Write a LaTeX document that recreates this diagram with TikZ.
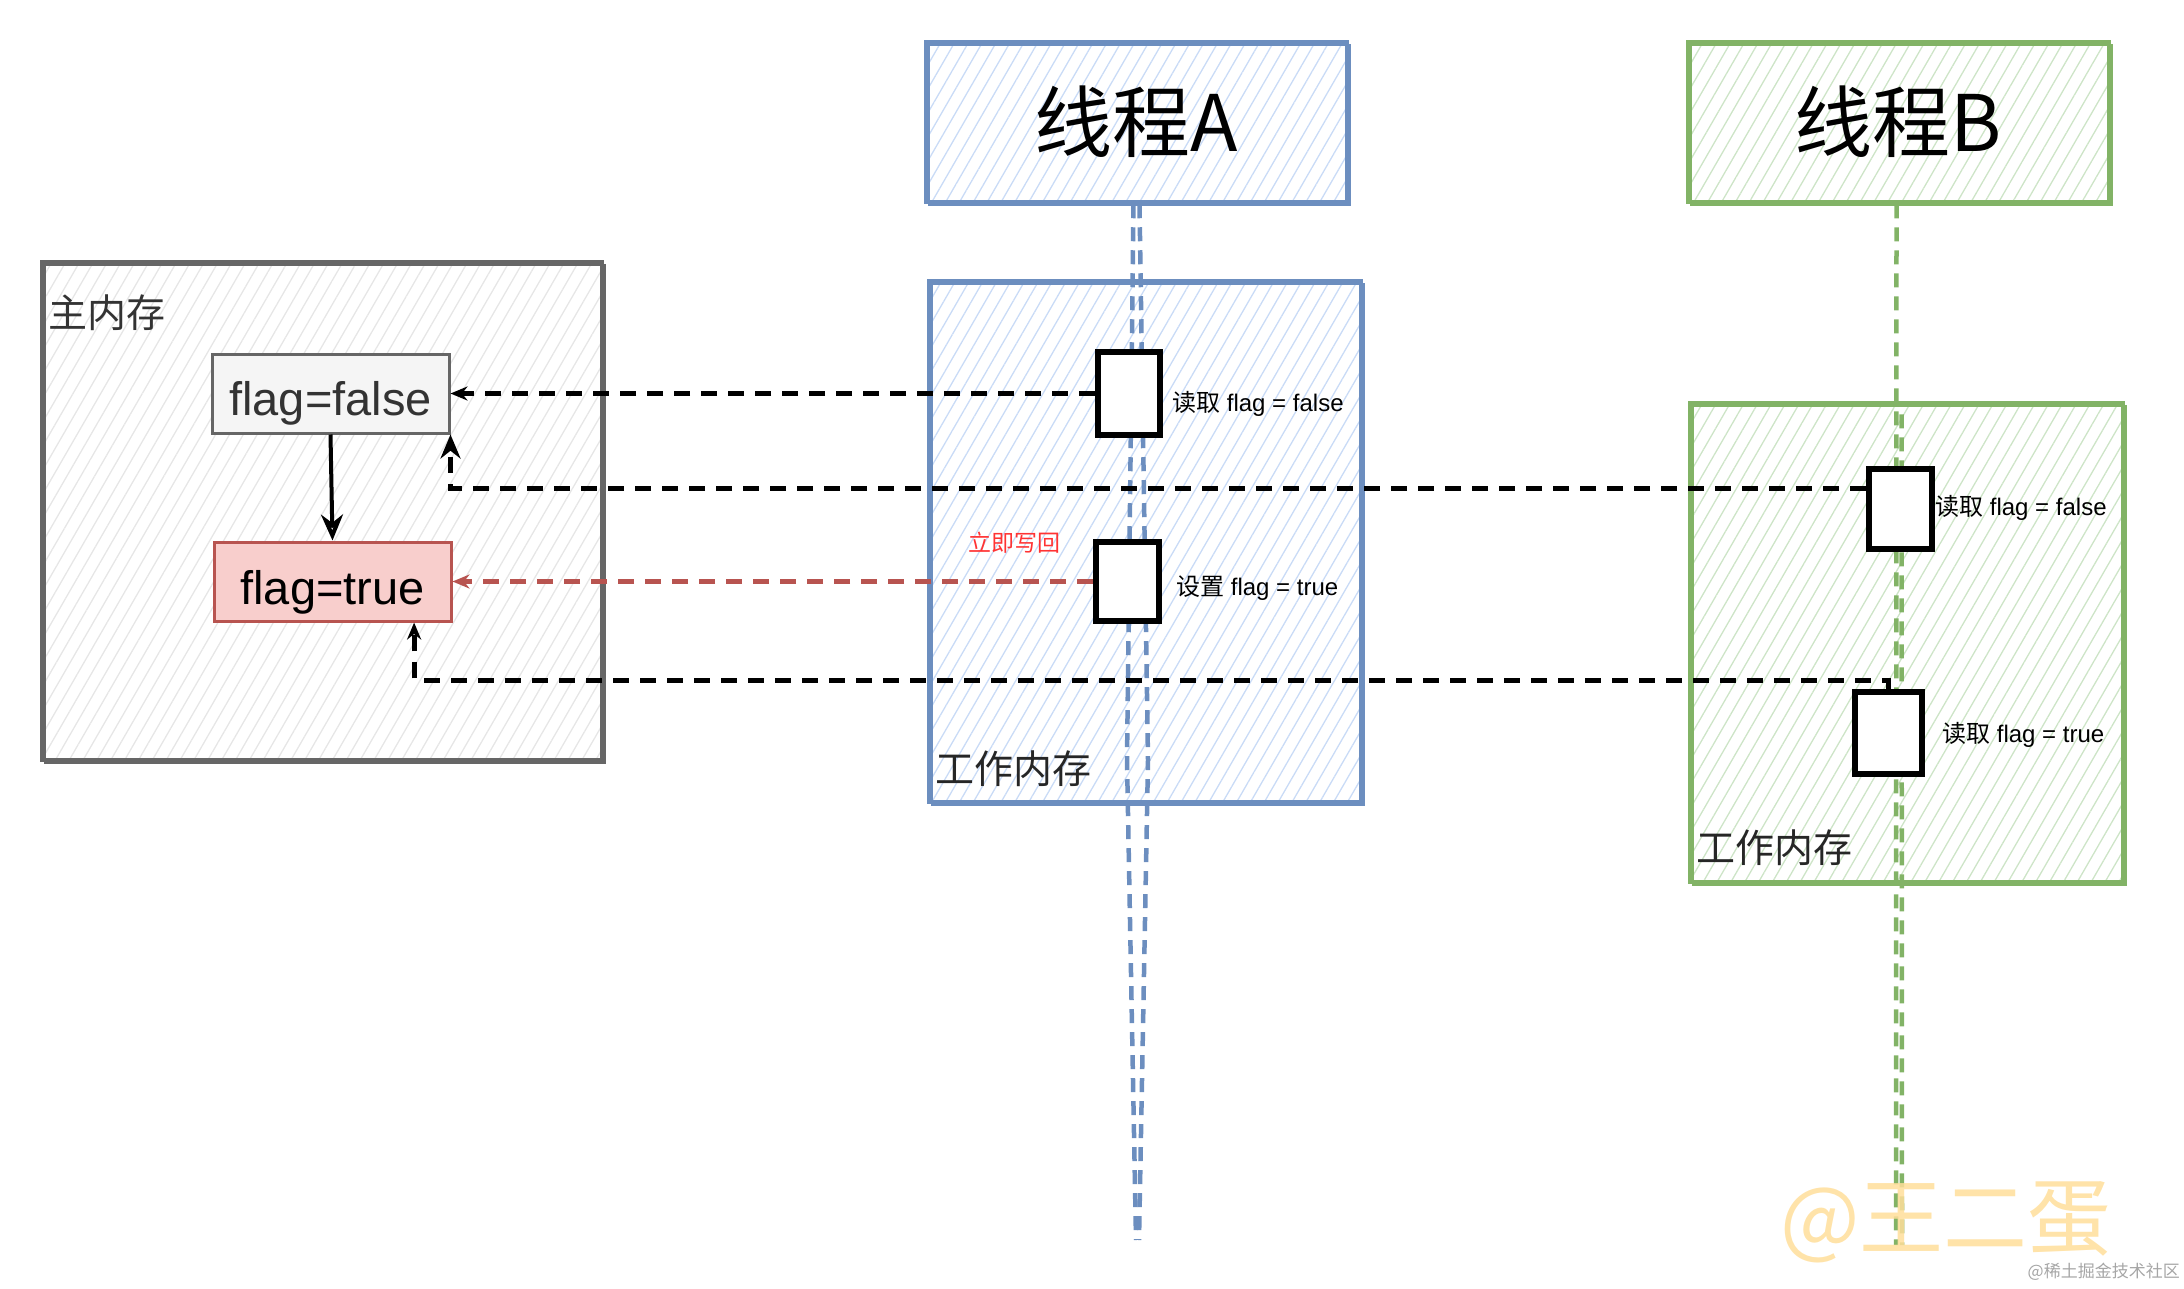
\documentclass[tikz,border=0pt]{standalone}
\usepackage{fontspec}
\setmainfont{Liberation Sans}
\newfontfamily\cjk{Noto Sans CJK SC}
\usetikzlibrary{patterns.meta,arrows.meta,calc}
\definecolor{blueB}{HTML}{6C8EBF}
\definecolor{blueF}{HTML}{C9DBF6}
\definecolor{greenB}{HTML}{82B366}
\definecolor{greenF}{HTML}{CDE4C7}
\definecolor{grayB}{HTML}{666666}
\definecolor{grayF}{HTML}{E6E6E6}
\definecolor{redB}{HTML}{B85450}
\definecolor{redF}{HTML}{F8CECC}
\definecolor{redT}{HTML}{FF3333}
\definecolor{wmk}{HTML}{FFDE9A}
\tikzset{
  hatch/.style={pattern={Lines[angle=60,distance=12pt,line width=1.3pt]},pattern color=#1},
  bigbox/.style={draw=#1,line width=4.5pt,rectangle,inner sep=0pt,
    postaction={draw=#1,line width=2pt,transform canvas={xshift=3pt,yshift=-2.5pt}}},
  membox/.style={bigbox=grayB,hatch=grayF},
  bluebox/.style={bigbox=blueB,hatch=blueF},
  greenbox/.style={bigbox=greenB,hatch=greenF},
  varbox/.style={rectangle,line width=3pt,minimum width=237pt,minimum height=79pt,inner sep=0pt,font=\fontsize{47}{56}\selectfont,text depth=0pt},
  actbox/.style={draw=black,fill=white,line width=6pt,rectangle,inner sep=0pt},
  conn/.style={draw=black,line width=5pt,dash pattern=on 16pt off 11pt,-{Stealth[length=17pt,width=14pt]}},
  redconn/.style={draw=redB,line width=5pt,dash pattern=on 16pt off 11pt,-{Stealth[length=17pt,width=14pt]}},
  bluelife/.style={draw=blueB,line width=4.5pt,dash pattern=on 14pt off 9pt},
  greenlife/.style={draw=greenB,line width=4.5pt,dash pattern=on 14pt off 9pt},
  acttext/.style={anchor=west,inner sep=0pt,font=\fontsize{24}{28}\selectfont},
  boxtitle/.style={anchor=west,inner sep=0pt,font=\cjk\fontsize{39}{44}\selectfont,text=black!85},
  headtext/.style={font=\cjk\fontsize{78}{90}\selectfont}
}
\begin{document}
\begin{tikzpicture}[x=1pt,y=-1pt]
\useasboundingbox (0,0) rectangle (2184,1288);
% main memory
\node[membox,minimum width=560pt,minimum height=498pt] (main) at (322,511) {};
\node[boxtitle,text=black!80] (mainlbl) at (48,313) {主内存};
% work memories
\node[bluebox,minimum width=432pt,minimum height=521pt] (wmA) at (1145,541.5) {};
\node[greenbox,minimum width=433pt,minimum height=479pt] (wmB) at (1906.5,642.5) {};
\node[boxtitle] (wmAlbl) at (935,769) {工作内存};
\node[boxtitle] (wmBlbl) at (1696,848) {工作内存};
% thread headers
\node[bluebox,minimum width=421pt,minimum height=160pt,headtext] (thA) at (1136.5,122) {线程A};
\node[greenbox,minimum width=421pt,minimum height=160pt,headtext] (thB) at (1898.5,122) {线程B};
% lifelines
\coordinate (endA1) at (1136,1240);
\coordinate (endA2) at (1139,1240);
\coordinate (midA1) at (1127,760);
\coordinate (midA2) at (1148,760);
\draw[bluelife] ($(thA.south)+(-3,0)$) -- (midA1) -- (endA1);
\draw[bluelife] ($(thA.south)+(3,0)$) -- (midA2) -- (endA2);
\coordinate (endB1) at (1896,1245);
\coordinate (endB2) at (1902,1245);
\draw[greenlife] ($(thB.south)+(-2,0)$) -- (endB1);
\draw[greenlife] ($(thB.south)+(3,210)$) -- (endB2);
% variables
\node[varbox,draw=grayB,fill=black!4,text=black!80,text height=44pt] (ffalse) at (330.5,393.5) {flag=false};
\node[varbox,draw=redB,fill=redF,text height=46pt] (ftrue) at (332.5,581.5) {flag=true};
\draw[line width=4pt,-{Stealth[open,length=26pt,width=22pt]}] (ffalse.south) -- (ftrue.north);
% activation boxes
\node[actbox,minimum width=62pt,minimum height=83pt] (a1) at (1129,393.5) {};
\node[actbox,minimum width=63pt,minimum height=79pt] (a2) at (1127.5,581.5) {};
\node[actbox,minimum width=63pt,minimum height=80pt] (b1) at (1900.5,509) {};
\node[actbox,minimum width=67pt,minimum height=82pt] (b2) at (1888.5,733) {};
\node[acttext] (a1t) at (1172,404) {{\cjk 读取} flag = false};
\node[acttext] (a2t) at (1176,588) {{\cjk 设置} flag = true};
\node[acttext] (b1t) at (1935,508) {{\cjk 读取} flag = false};
\node[acttext] (b2t) at (1942,735) {{\cjk 读取} flag = true};
\node[font=\cjk\fontsize{23}{26}\selectfont,text=redT,inner sep=0pt] (wb) at (1014,543) {立即写回};
% connectors
\draw[conn] (a1.west) -- (ffalse.east);
\coordinate (b1in) at ($(b1.north west)!0.26!(b1.south west)$);
\draw[conn,-{Stealth[open,length=24pt,width=20pt]}] (b1in) -| (ffalse.south east);
\draw[redconn] (a2.west) -- (ftrue.east);
\coordinate (b2bend) at ($(b2.north)+(0,-9)$);
\coordinate (tin) at ($(ftrue.south west)!0.84!(ftrue.south east)$);
\draw[conn] (b2.north) -- (b2bend) -| (tin);
% watermarks
\node[font=\cjk\fontsize{84}{96}\selectfont,text=wmk,opacity=0.85,inner sep=0pt] (wm1) at (1946,1222) {@王二蛋};
\node[font=\cjk\fontsize{17}{20}\selectfont,text=black!35,anchor=east,inner sep=0pt] (wm2) at (2180,1272) {@稀土掘金技术社区};
\end{tikzpicture}
\end{document}
